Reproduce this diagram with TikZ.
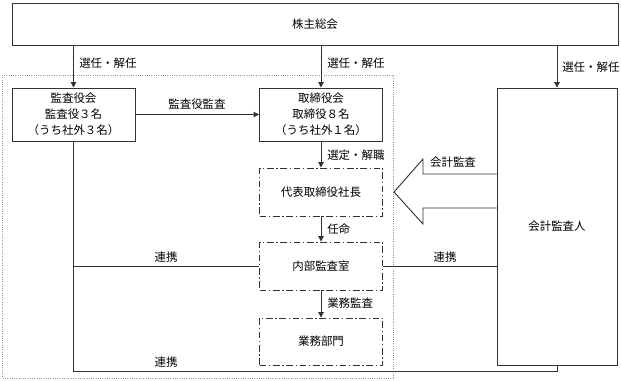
\documentclass[tikz,border=0pt]{standalone}
\usepackage{fontspec}
\setmainfont{Noto Sans CJK JP}
\usepackage{xcolor}
\definecolor{lineg}{RGB}{50,50,50}
\definecolor{frameg}{RGB}{150,150,150}
\usetikzlibrary{arrows.meta,positioning}

\begin{document}
\begin{tikzpicture}[x=0.75pt, y=-0.75pt,
  font=\fontsize{8.6}{12}\selectfont,
  sbox/.style={rectangle, draw=lineg, line width=0.7pt, fill=white,
               inner sep=0pt, align=center},
  dbox/.style={sbox, dash pattern=on 5pt off 2pt on 1pt off 2pt},
  lbl/.style={inner sep=0pt, anchor=west},
  arr/.style={-{Triangle[length=4pt,width=4pt]}, draw=lineg, line width=0.7pt},
  link/.style={draw=lineg, line width=0.7pt}
]
\useasboundingbox (0,0) rectangle (621,380);

% Frame round the company organs
\draw[frameg, densely dotted, line width=0.7pt] (2,75) rectangle (393,378);

% Boxes
\node[sbox, minimum width=454.5pt, minimum height=31.5pt] (meeting) at (315,24) {株主総会};

\node[sbox, minimum width=92.25pt, minimum height=39.75pt] (kansa) at (73.5,114.5)
  {監査役会\\監査役３名\\（うち社外３名）};
\node[sbox, minimum width=92.25pt, minimum height=39.75pt] (board) at (321,114.5)
  {取締役会\\取締役８名\\（うち社外１名）};

\node[dbox, minimum width=92.25pt, minimum height=36pt]    (ceo)   at (321,192)   {代表取締役社長};
\node[dbox, minimum width=92.25pt, minimum height=36pt]    (audit) at (321,266)   {内部監査室};
\node[dbox, minimum width=92.25pt, minimum height=35.25pt] (dept)  at (321,341.5) {業務部門};

\node[sbox, minimum width=90pt, minimum height=207.75pt] (kaikei) at (557,226.5) {会計監査人};

% Appointment arrows
\draw[arr] (kansa.north |- meeting.south)  -- (kansa.north);
\draw[arr] (board.north |- meeting.south)  -- (board.north);
\draw[arr] (kaikei.north |- meeting.south) -- (kaikei.north);
\node[lbl] (sel1) at (79,63)  {選任・解任};
\node[lbl] (sel2) at (327,63) {選任・解任};
\node[lbl] (sel3) at (562,67) {選任・解任};

\draw[arr] (kansa.east) -- (board.west);
\node (kansalbl) at (197,104) {監査役監査};

\draw[arr] (board.south) -- (ceo.north);
\node[lbl] (sentei) at (327,155) {選定・解職};
\draw[arr] (ceo.south) -- (audit.north);
\node[lbl] (ninmei) at (327,229) {任命};
\draw[arr] (audit.south) -- (dept.north);
\node[lbl] (gyomu) at (327,303) {業務監査};

% Cooperation lines
\coordinate (bottom) at (73.5,371);
\draw[link] (kansa.south) -- (bottom) -| (kaikei.south);
\draw[link] (kansa.south |- audit.west) -- (audit.west);
\draw[link] (audit.east) -- (kaikei.west |- audit.east);
\node (renkei1) at (166,257) {連携};
\node (renkei2) at (445,257) {連携};
\node (renkei3) at (166,362) {連携};

% Accounting audit arrow
\draw[link, line join=miter] (kaikei.west |- 0,174) -- (423,174) -- (423,159) -- (394,192)
  -- (423,224) -- (423,208) -- (kaikei.west |- 0,208);
\node (kaikeilbl) at (453,162) {会計監査};
\end{tikzpicture}
\end{document}
